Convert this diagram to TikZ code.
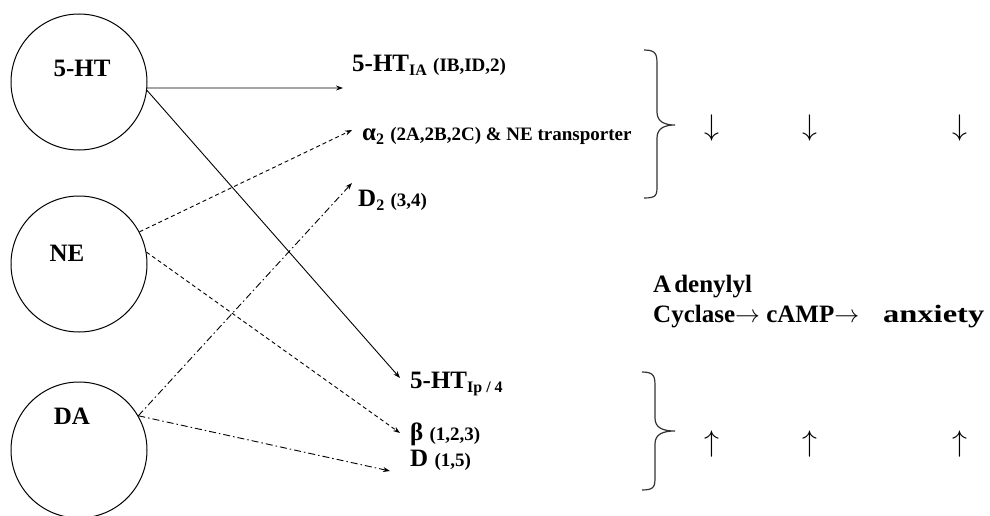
\documentclass[tikz,border=0pt]{standalone}
\usepackage{fontspec}
\setmainfont{Liberation Serif}
\usetikzlibrary{arrows.meta}
\newcommand{\bigf}{\fontsize{25}{28}\selectfont\bfseries}
\newcommand{\smf}{\fontsize{19}{21}\selectfont\bfseries}
\newcommand{\subf}[1]{\raisebox{-4pt}{\fontsize{16}{17}\selectfont\bfseries #1}}
\newcommand{\rarr}{\ensuremath{\rightarrow}}
\tikzset{
  x=1pt, y=-1pt,
  src/.style={circle, draw, line width=1pt, minimum size=136pt, inner sep=0pt},
  lbl/.style={inner sep=0pt, font=\bigf},
  txt/.style={anchor=base west, inner sep=0pt, font=\bigf},
  arr/.style={font=\fontsize{25}{28}\selectfont, inner sep=0pt, scale=1.2},
  conn/.style={line width=0.9pt, -{Stealth[length=7pt,width=5pt]}},
  dotline/.style={conn, dash pattern=on 4pt off 3pt},
  dashdotline/.style={conn, dash pattern=on 7pt off 3pt on 1.5pt off 3pt},
  brc/.style={line width=1.2pt, draw=black!80}
}
\begin{document}
\begin{tikzpicture}
\useasboundingbox (0,0) rectangle (990,516);
% source circles
\node[src] (ht) at (79,82) {};
\node[src] (ne) at (79,264) {};
\node[src] (da) at (79,450) {};
\node[lbl] (htl) at (82,68) {5-HT};
\node[lbl] (nel) at (67,253) {NE};
\node[lbl] (dal) at (72,416) {DA};
% targets
\node[txt] (t1) at (352,72) {5-HT\subf{IA}\ \smf (IB,ID,2)};
\node[txt] (t2) at (362,141) {α\subf{2}\ \smf (2A,2B,2C) \& NE transporter};
\node[txt] (t3) at (358,206) {D\subf{2}\ \smf (3,4)};
\node[txt] (t6) at (410,388) {5-HT\subf{Ip / 4}};
\node[txt] (t7) at (410,440) {β \smf (1,2,3)};
\node[txt] (t8) at (410,466) {D \smf (1,5)};
\node[txt] (t4) at (653,292) {A\kern3pt denylyl};
\node[txt] (t5) at (653,322) {Cyclase\rarr{} cAMP\rarr\hspace{24pt}\scalebox{1.3}[1]{anxiety}};
% arrow tips
\coordinate (e1) at (343,88);
\coordinate (e2) at (352,130);
\coordinate (e3) at (352,183);
\coordinate (e6) at (400,378);
\coordinate (e7) at (400,433);
\coordinate (e8) at (390,471);
% connectors
\draw[conn] (ht.-5) -- (e1);
\draw[conn] (ht.-7) -- (e6);
\draw[dotline] (ne.28) -- (e2);
\draw[dotline] (ne.10) -- (e7);
\draw[dashdotline] (da.30) -- (e3);
\draw[dashdotline] (da.30) -- (e8);
% braces
\draw[brc] (644,50) .. controls (657,50) and (657,55) .. (657,66) -- (657,112)
  .. controls (657,122) and (665,125) .. (675,125)
  .. controls (665,125) and (657,128) .. (657,138) -- (657,185)
  .. controls (657,195) and (657,198) .. (644,198);
\draw[brc] (642,372) .. controls (655,372) and (655,377) .. (655,388) -- (655,418)
  .. controls (655,428) and (663,431) .. (675,431)
  .. controls (663,431) and (655,434) .. (655,444) -- (655,476)
  .. controls (655,486) and (655,490) .. (642,490);
% effect arrows
\node[arr] (d1) at (712,128) {$\downarrow$};
\node[arr] (d2) at (810,128) {$\downarrow$};
\node[arr] (d3) at (960,128) {$\downarrow$};
\node[arr] (u1) at (712,444) {$\uparrow$};
\node[arr] (u2) at (810,444) {$\uparrow$};
\node[arr] (u3) at (960,444) {$\uparrow$};
\end{tikzpicture}
\end{document}
